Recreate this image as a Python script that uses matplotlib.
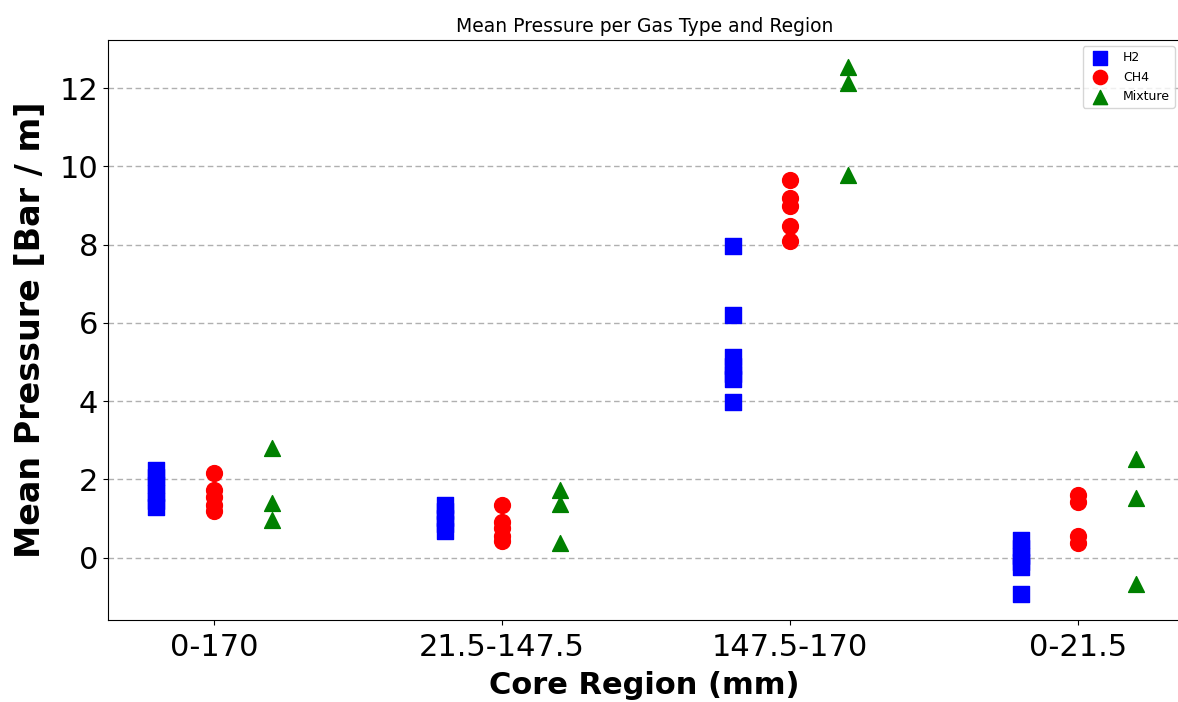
import matplotlib
matplotlib.use("Agg")
import matplotlib.pyplot as plt

# ── data: mean pressure per core region and gas ──────────────────────────────
REGIONS = ["0-170", "21.5-147.5", "147.5-170", "0-21.5"]

H2 = [
    [2.25, 2.05, 1.85, 1.65, 1.45, 1.30],
    [1.35, 1.20, 1.02, 0.85, 0.69],
    [7.96, 6.20, 5.13, 4.90, 4.70, 4.57, 3.98],
    [0.45, 0.25, 0.05, -0.10, -0.24, -0.92],
]
CH4 = [
    [2.17, 1.72, 1.55, 1.35, 1.20],
    [1.35, 0.90, 0.75, 0.55, 0.42],
    [9.65, 9.19, 8.98, 8.47, 8.09],
    [1.61, 1.43, 0.56, 0.38],
]
MIXTURE = [
    [2.79, 1.40, 0.97],
    [1.74, 1.36, 0.38],
    [12.55, 12.13, 9.79],
    [2.51, 1.52, -0.68],
]
# ──────────────────────────────────────────────────────────────────────────────

series = [
    ("H2", H2, "blue", "s", -0.2),
    ("CH4", CH4, "red", "o", 0.0),
    ("Mixture", MIXTURE, "green", "^", 0.2),
]

fig = plt.figure(figsize=(11.78, 7.02), dpi=100)
ax = fig.add_axes([0.0917, 0.1168, 0.911, 0.826])

for name, groups, color, marker, offset in series:
    xs, ys = [], []
    for i, vals in enumerate(groups):
        xs += [i + offset] * len(vals)
        ys += vals
    ax.scatter(xs, ys, c=color, marker=marker, s=130, label=name, zorder=3)

ax.set_xlim(-0.368, 3.357)
ax.set_xticks(range(len(REGIONS)))
ax.set_xticklabels(REGIONS)
ax.tick_params(axis="both", labelsize=22)
ax.tick_params(axis="x", pad=6)
ax.set_xlabel("Core Region (mm)", fontsize=22, fontweight="bold", labelpad=6)
ax.set_ylabel("Mean Pressure [Bar / m]", fontsize=24, fontweight="bold", labelpad=9)
ax.set_title("Mean Pressure per Gas Type and Region", fontsize=13.5)
ax.grid(axis="y", linestyle=(0, (4, 2.5)), color="#b0b0b0", linewidth=1)
ax.legend(loc="upper right", fontsize=9, markerscale=0.9)

fig.savefig("out.png", dpi=100)
